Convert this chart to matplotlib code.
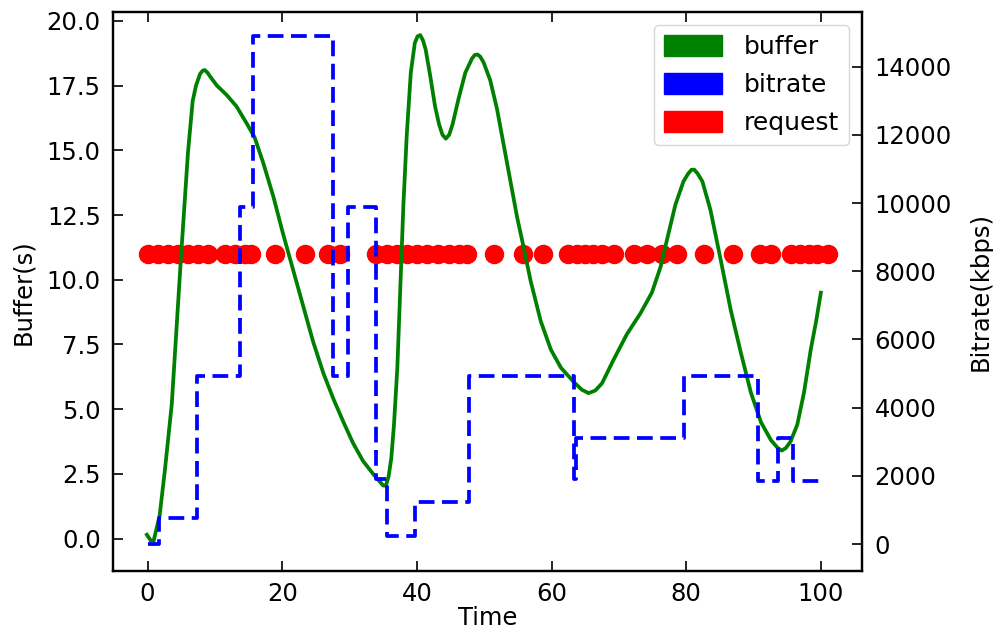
import matplotlib
matplotlib.use("Agg")
import matplotlib.pyplot as plt
from matplotlib.patches import Patch

# buffer level (s)
buffer_time = [-0.1, 0.8, 1.8, 2.6, 3.6, 4.95, 6.0, 6.7, 7.2, 7.8, 8.2, 8.5, 8.9, 9.3, 10.3,
               11.7, 13.2, 14.7, 15.9, 17.2, 18.7, 20.1, 21.6, 23.1, 24.6, 26.1, 27.6,
               29.1, 30.5, 32.0, 33.5, 34.5, 35.0, 35.4, 35.8, 36.2, 36.6, 37.1, 37.5,
               38.0, 38.5, 39.1, 39.7, 40.1, 40.5, 40.9, 41.3, 42.0, 42.7, 43.3, 43.8,
               44.3, 44.8, 45.3, 46.2, 47.2, 48.2, 48.6, 49.0, 49.4, 49.9, 50.9, 51.9,
               52.9, 53.9, 54.9, 55.9, 56.9, 58.4, 59.9, 61.4, 63.3, 64.5, 65.5, 66.5,
               67.5, 69.2, 71.2, 73.2, 74.9, 76.2, 77.2, 78.4, 79.6, 80.3, 80.8, 81.2,
               81.7, 82.4, 83.6, 85.1, 86.6, 88.1, 89.6, 91.1, 92.6, 93.6, 94.2, 94.8,
               95.5, 96.5, 97.5, 98.5, 99.3, 100.0]
buffer_level = [0.15, -0.2, 0.9, 2.7, 5.2, 10.8, 14.9, 16.9, 17.5, 17.95, 18.08, 18.1, 18.0, 17.85, 17.5,
                17.15, 16.7, 16.05, 15.5, 14.5, 13.2, 11.8, 10.4, 9.0, 7.6, 6.4, 5.4,
                4.5, 3.7, 3.0, 2.5, 2.2, 2.05, 2.05, 2.4, 3.1, 4.4, 6.6, 9.4,
                12.9, 15.6, 18.0, 19.15, 19.4, 19.45, 19.25, 18.9, 17.85, 16.7, 16.0, 15.6,
                15.45, 15.6, 16.0, 17.0, 18.0, 18.55, 18.68, 18.7, 18.62, 18.4, 17.7, 16.6,
                15.2, 13.8, 12.4, 11.2, 9.95, 8.4, 7.3, 6.6, 6.05, 5.75, 5.62, 5.72,
                6.0, 6.9, 7.9, 8.7, 9.5, 10.5, 11.6, 12.9, 13.8, 14.1, 14.25, 14.25,
                14.1, 13.8, 12.7, 10.8, 8.85, 7.2, 5.65, 4.5, 3.8, 3.5, 3.4, 3.5,
                3.75, 4.4, 5.65, 7.3, 8.4, 9.5]

# bitrate (kbps), held until the next switch
bitrate_time = [0, 1.7, 7.4, 13.7, 15.7, 27.5, 29.8, 33.9, 35.6, 39.7, 47.7, 63.3,
                63.7, 79.7, 90.6, 93.6, 95.8, 100]
bitrate_kbps = [0, 775, 4920, 9890, 14900, 4920, 9890, 1900, 250, 1250, 4920, 1900,
                3100, 4920, 1850, 3100, 1850, 1850]

# segment request instants
request_time = [0.0, 1.6, 3.1, 4.5, 6.0, 7.5, 9.0, 11.5, 13.0, 14.5, 15.4, 19.0, 23.4,
                26.8, 28.6, 34.0, 35.5, 37.0, 38.5, 40.0, 41.5, 43.2, 44.7, 46.2, 47.4,
                51.4, 55.7, 58.8, 62.5, 63.8, 65.0, 66.2, 67.5, 69.3, 72.3, 74.2, 76.4,
                78.6, 82.6, 87.0, 91.0, 92.6, 95.5, 96.9, 98.2, 99.4, 101.1]
request_level = [11] * len(request_time)

plt.rcParams['font.family'] = ['DejaVu Sans']
plt.rcParams['font.size'] = 17.5

fig = plt.figure(figsize=(9.93, 6.34), dpi=100)
ax1 = fig.add_axes([0.114, 0.099, 0.754, 0.882])
ax2 = ax1.twinx()

ax1.plot(request_time, request_level, 'o', color='red', markersize=13, zorder=1)
ax1.plot(buffer_time, buffer_level, color='green', linewidth=2.7, zorder=2,
         solid_joinstyle='round')
ax2.plot(bitrate_time, bitrate_kbps, color='blue', linewidth=2.7, linestyle='--',
         dashes=(4.2, 2.0), drawstyle='steps-post')

ax1.set_xlim(-5.1, 106.1)
ax1.set_ylim(-1.26, 20.34)
ax2.set_ylim(-792, 15597)
ax1.set_xticks([0, 20, 40, 60, 80, 100])
ax1.set_yticks([0, 2.5, 5, 7.5, 10, 12.5, 15, 17.5, 20])
ax1.set_yticklabels(['0.0', '2.5', '5.0', '7.5', '10.0', '12.5', '15.0', '17.5', '20.0'])
ax2.set_yticks(range(0, 14001, 2000))

ax1.tick_params(axis='x', direction='in', top=True, length=7, width=1.2, pad=8)
ax1.tick_params(axis='y', direction='in', length=7, width=1.2, pad=9)
ax2.tick_params(axis='y', direction='in', length=7, width=1.2, pad=9)
for ax in (ax1, ax2):
    for s in ax.spines.values():
        s.set_linewidth(1.6)

ax1.set_xlabel('Time', labelpad=0)
ax1.set_ylabel('Buffer(s)', labelpad=8)
ax2.set_ylabel('Bitrate(kbps)', labelpad=12)

handles = [Patch(color='green', label='buffer'),
           Patch(color='blue', label='bitrate'),
           Patch(color='red', label='request')]
leg = ax2.legend(handles=handles, loc='upper right', fontsize=18, handlelength=2.3,
                 handleheight=0.95, handletextpad=0.9, labelspacing=0.55,
                 borderaxespad=0.5, fancybox=True)
leg.get_frame().set_edgecolor('#cccccc')

fig.savefig('out.png', dpi=100)
